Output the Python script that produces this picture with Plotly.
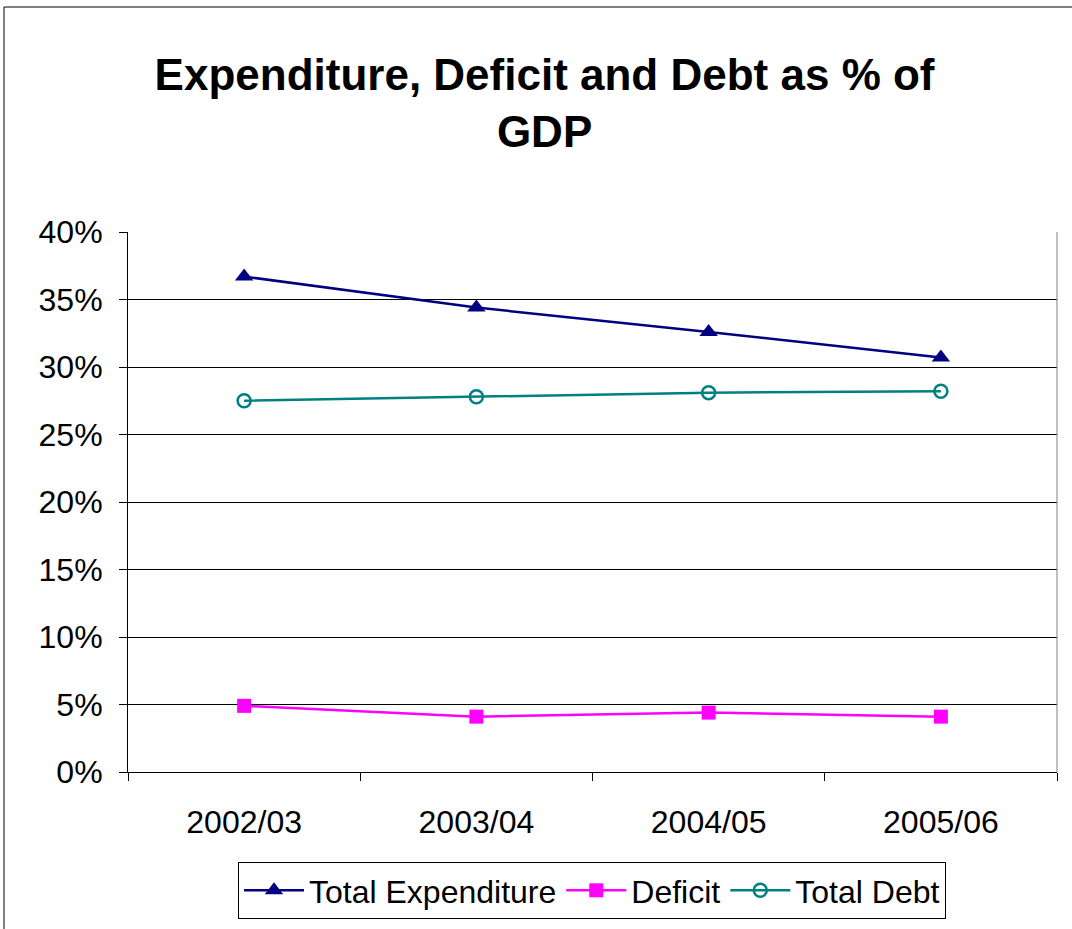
import plotly.graph_objects as go

categories = ["2002/03", "2003/04", "2004/05", "2005/06"]
total_expenditure = [0.367, 0.344, 0.326, 0.307]
deficit = [0.049, 0.041, 0.044, 0.041]
total_debt = [0.275, 0.278, 0.281, 0.282]
y_ticks = [0, 0.05, 0.10, 0.15, 0.20, 0.25, 0.30, 0.35, 0.40]
y_labels = ["0%", "5%", "10%", "15%", "20%", "25%", "30%", "35%", "40%"]

fig = go.Figure()
fig.add_trace(go.Scatter(x=categories, y=total_expenditure, name="Total Expenditure",
                         mode="lines+markers",
                         line=dict(color="#000080", width=2.5),
                         marker=dict(symbol="triangle-up", size=16, color="#000080")))
fig.add_trace(go.Scatter(x=categories, y=deficit, name="Deficit",
                         mode="lines+markers",
                         line=dict(color="#FF00FF", width=2.5),
                         marker=dict(symbol="square", size=14, color="#FF00FF")))
fig.add_trace(go.Scatter(x=categories, y=total_debt, name="Total Debt",
                         mode="lines+markers",
                         line=dict(color="#008080", width=2.5),
                         marker=dict(symbol="circle-open", size=13, color="#008080",
                                     line=dict(width=2.5, color="#008080"))))

fig.update_layout(
    width=1072, height=929,
    margin=dict(l=128, r=15, t=232, b=157),
    paper_bgcolor="white", plot_bgcolor="white",
    font=dict(family="Liberation Sans, Arial", color="black"),
    title=dict(text="<b>Expenditure, Deficit and Debt as % of<br>GDP</b>",
               x=0.508, xanchor="center", y=0.903, yanchor="top",
               font=dict(size=44, family="Liberation Sans, Arial", color="black")),
    showlegend=True,
    legend=dict(orientation="h", xref="container", x=592 / 1072, xanchor="center",
                yref="container", y=1 - 862 / 929, yanchor="top",
                bordercolor="black", borderwidth=1, bgcolor="white",
                font=dict(size=32), itemwidth=60, tracegroupgap=0),
    xaxis=dict(type="category", range=[-0.5, 3.5], tickson="boundaries",
               ticks="outside", ticklen=8, tickcolor="black",
               showline=True, linecolor="black", linewidth=1,
               showgrid=False, tickfont=dict(size=32), ticklabelstandoff=22),
    yaxis=dict(range=[0, 0.40], tickvals=y_ticks, ticktext=y_labels,
               ticks="outside", ticklen=8, tickcolor="black",
               showline=True, linecolor="black", linewidth=1,
               showgrid=True, gridcolor="black", gridwidth=1,
               tickfont=dict(size=32), zeroline=False, ticklabelstandoff=10),
)

# right border of plot area
fig.add_shape(type="line", xref="paper", yref="paper", x0=1, x1=1, y0=0, y1=1,
              line=dict(color="#808080", width=1))
# outer chart frame
fig.add_shape(type="rect", xref="paper", yref="paper",
              x0=(4 - 128) / 929, x1=1.2, y0=-0.5, y1=(772 - 7) / 540,
              line=dict(color="black", width=1), layer="below")

fig.write_html("out.html", config={"displayModeBar": False},
               post_script="document.body.style.margin='0';document.body.style.padding='0';")
